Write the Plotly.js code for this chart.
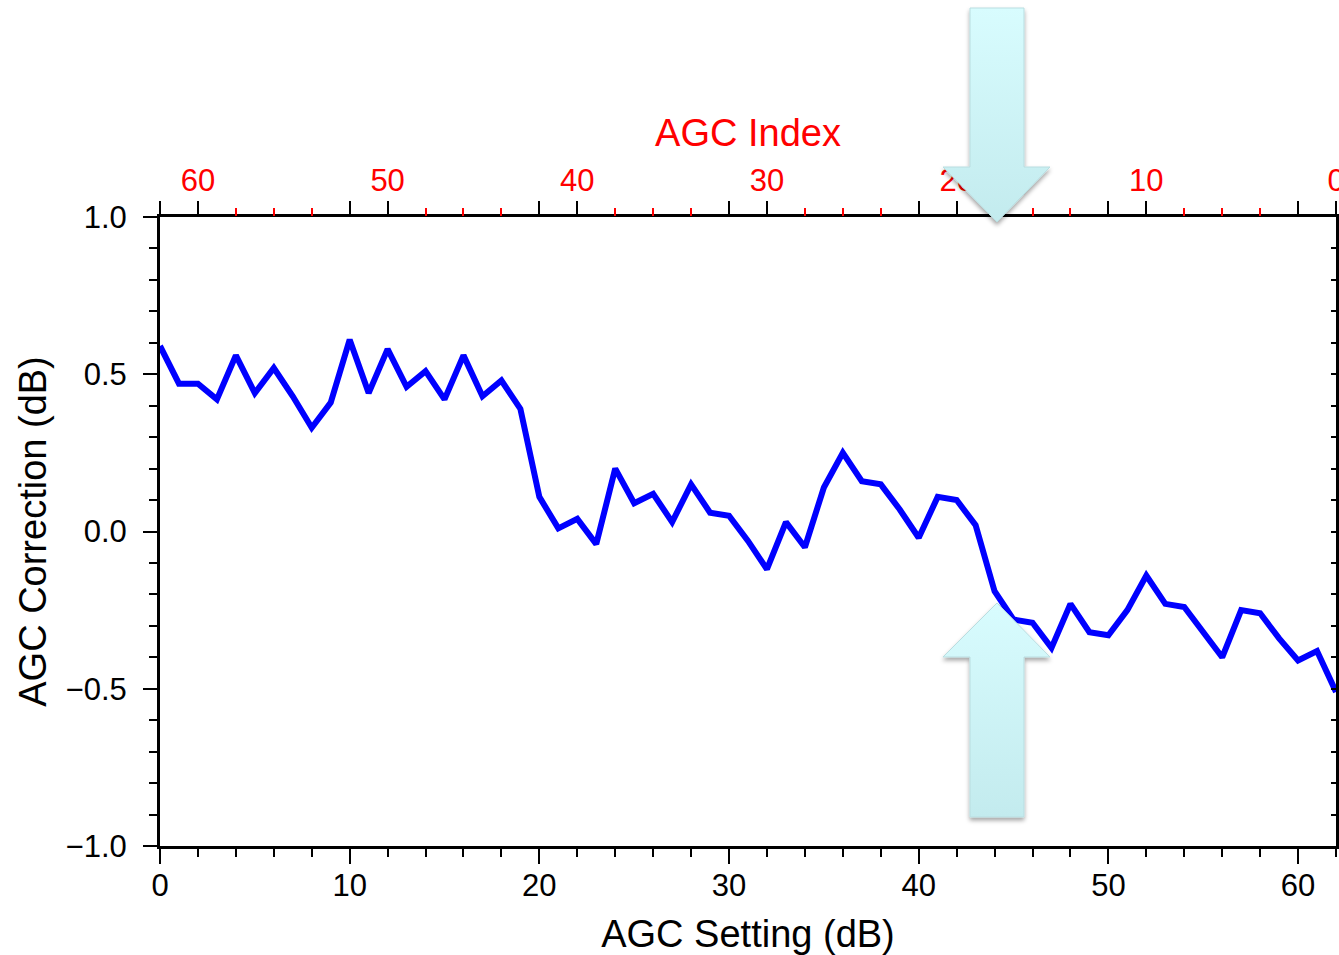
<!DOCTYPE html>
<html>
<head>
<meta charset="utf-8">
<script src="https://cdn.plot.ly/plotly-3.0.1.min.js"></script>
<style>
  html, body { margin: 0; padding: 0; background: #fff; }
  #chart { width: 1339px; height: 955px; }
</style>
</head>
<body>
<div id="chart"></div>
<script>
// ---- data ----
const agcSetting = [0,1,2,3,4,5,6,7,8,9,10,11,12,13,14,15,16,17,18,19,20,21,22,23,24,25,26,27,28,29,30,31,32,33,34,35,36,37,38,39,40,41,42,43,44,45,46,47,48,49,50,51,52,53,54,55,56,57,58,59,60,61,62];
const agcCorrection = [0.59,0.47,0.47,0.42,0.56,0.44,0.52,0.43,0.33,0.41,0.61,0.44,0.58,0.46,0.51,0.42,0.56,0.43,0.48,0.39,0.11,
  0.01,0.04,-0.04,0.20,0.09,0.12,0.03,0.15,0.06,0.05,-0.03,-0.12,0.03,-0.05,0.14,0.25,0.16,0.15,0.07,-0.02,
  0.11,0.10,0.02,-0.19,-0.28,-0.29,-0.37,-0.23,-0.32,-0.33,-0.25,-0.14,-0.23,-0.24,-0.32,-0.40,-0.25,-0.26,-0.34,-0.41,-0.38,-0.51];
const maxSetting = 62;
const agcIndex = agcSetting.map(s => maxSetting - s);
const bottomTicks = [0,10,20,30,40,50,60];

// ---- layout helpers ----
const W = 1339, H = 955;
const M = {l: 160, r: 3, t: 217, b: 109};
const plotW = W - M.l - M.r, plotH = H - M.t - M.b;
const font = '"Liberation Sans", Arial, Helvetica, sans-serif';

function arrowSVG(dir) {
  const w = 123, h = 232;
  const pts = dir === 'down'
    ? '35,8 89,8 89,167 115,167 62,222 8,167 35,167'
    : '62,8 115,62 89,62 89,222 35,222 35,62 8,62';
  const g1 = '#d8fcfe';
  const g2 = '#c3ebee';
  const svg = `<svg xmlns="http://www.w3.org/2000/svg" width="${w}" height="${h}" viewBox="0 0 ${w} ${h}">
<defs>
<linearGradient id="g" x1="0" y1="0" x2="0" y2="1"><stop offset="0" stop-color="${g1}"/><stop offset="1" stop-color="${g2}"/></linearGradient>
<filter id="s" x="-20%" y="-20%" width="140%" height="140%"><feDropShadow dx="0" dy="3" stdDeviation="2" flood-color="#000" flood-opacity="0.35"/></filter>
</defs>
<polygon points="${pts}" fill="url(#g)" stroke="#b9dde0" stroke-width="1" filter="url(#s)"/>
</svg>`;
  return 'data:image/svg+xml;charset=utf-8,' + encodeURIComponent(svg);
}
function pxImage(src, x0, y0, w, h) {
  return {
    source: src, xref: 'paper', yref: 'paper',
    x: (x0 - M.l) / plotW, y: (H - M.b - y0) / plotH,
    sizex: w / plotW, sizey: h / plotH,
    xanchor: 'left', yanchor: 'top', sizing: 'stretch', layer: 'above'
  };
}

const traces = [
  {
    x: agcSetting, y: agcCorrection, xaxis: 'x', yaxis: 'y',
    type: 'scatter', mode: 'lines',
    line: {color: '#0000ff', width: 6},
    showlegend: false, hoverinfo: 'x+y'
  },
  {
    x: agcIndex, y: agcCorrection, xaxis: 'x2', yaxis: 'y',
    type: 'scatter', mode: 'lines', opacity: 0,
    showlegend: false, hoverinfo: 'skip'
  },
  {
    x: agcSetting, y: agcCorrection, xaxis: 'x3', yaxis: 'y2',
    type: 'scatter', mode: 'lines', opacity: 0,
    showlegend: false, hoverinfo: 'skip'
  }
];

const layout = {
  width: W, height: H,
  margin: M,
  paper_bgcolor: '#ffffff', plot_bgcolor: '#ffffff',
  font: {family: font, color: '#000', size: 31},
  showlegend: false,
  xaxis: {
    range: [0, maxSetting], tickvals: bottomTicks,
    showgrid: false, zeroline: false,
    showline: true, linecolor: '#000', linewidth: 3, mirror: true,
    ticks: 'outside', ticklen: 15, tickwidth: 2, tickcolor: '#000',
    minor: {dtick: 2, tick0: 0, ticks: 'outside', ticklen: 8, tickwidth: 2, tickcolor: '#000', showgrid: false},
    tickfont: {size: 31, color: '#000'},
    ticklabelstandoff: -5,
    title: {text: 'AGC Setting (dB)', font: {size: 38, color: '#000'}, standoff: 29}
  },
  xaxis2: {
    overlaying: 'x', side: 'top', anchor: 'y',
    range: [maxSetting, 0], tick0: 0, dtick: 10,
    showgrid: false, zeroline: false, showline: false,
    ticks: 'outside', ticklen: 15, tickwidth: 2, tickcolor: '#000',
    minor: {dtick: 2, tick0: 0, ticks: 'outside', ticklen: 8, tickwidth: 2, tickcolor: '#ff0000', showgrid: false},
    tickfont: {size: 31, color: '#ff0000'},
    ticklabelstandoff: -2,
    ticklabeloverflow: 'allow',
    title: {text: 'AGC Index', font: {size: 38, color: '#ff0000'}, standoff: 4}
  },
  xaxis3: {
    overlaying: 'x', side: 'top', anchor: 'y',
    range: [0, maxSetting], tickvals: bottomTicks,
    showgrid: false, zeroline: false, showline: false,
    ticks: 'outside', ticklen: 15, tickwidth: 2, tickcolor: '#000',
    showticklabels: false
  },
  yaxis: {
    range: [-1, 1], tick0: -1, dtick: 0.5, tickformat: '.1f',
    showgrid: false, zeroline: false,
    showline: true, linecolor: '#000', linewidth: 3, mirror: true,
    ticks: 'outside', ticklen: 14, tickwidth: 2, tickcolor: '#000',
    minor: {dtick: 0.1, tick0: -1, ticks: 'outside', ticklen: 8, tickwidth: 2, tickcolor: '#000', showgrid: false},
    tickfont: {size: 31, color: '#000'},
    ticklabelstandoff: 10,
    title: {text: 'AGC Correction (dB)', font: {size: 38, color: '#000'}, standoff: 8}
  },
  yaxis2: {
    overlaying: 'y', side: 'right', anchor: 'x',
    range: [-1, 1], tick0: -1, dtick: 0.1,
    showgrid: false, zeroline: false, showline: false,
    ticks: 'inside', ticklen: 5, tickwidth: 2, tickcolor: '#000',
    showticklabels: false
  },
  images: [
    pxImage(arrowSVG('down'), 935, 0, 123, 232),
    pxImage(arrowSVG('up'), 935, 595, 123, 232)
  ]
};

Plotly.newPlot('chart', traces, layout, {displayModeBar: false, staticPlot: true});
</script>
</body>
</html>
